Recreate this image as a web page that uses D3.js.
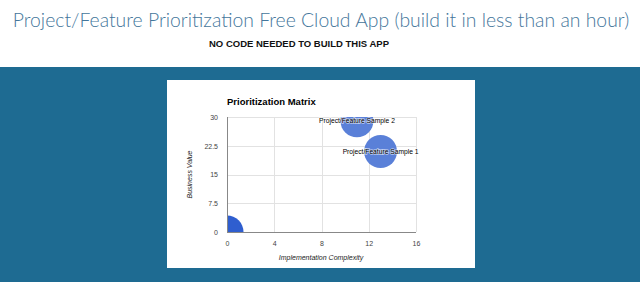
<!DOCTYPE html>
<html>
<head>
<meta charset="utf-8">
<script src="https://cdn.jsdelivr.net/npm/d3@7"></script>
<style>
  html, body { margin: 0; padding: 0; background: #fff; }
  svg { display: block; }
</style>
</head>
<body>
<div id="chart"></div>
<script>
// 버블 데이터
const names = ['Project/Feature Sample 1', 'Project/Feature Sample 2', ''];
const complexity = [13, 11, 0];
const value = [21, 29, 0];
const sizes = [1, 1, 1];
const bubbleColors = ['#5a80d8', '#5a80d8', '#2f5ecf'];
const xTicks = [0, 4, 8, 12, 16];
const yTicks = [0, 7.5, 15, 22.5, 30];

const W = 640, H = 288;
const svg = d3.select('#chart').append('svg')
  .attr('width', W).attr('height', H);

// 페이지 제목 (폭 617px에 맞춰 글자 크기 조정)
const title = svg.append('text')
  .attr('x', 321).attr('y', 27)
  .attr('text-anchor', 'middle')
  .attr('font-family', 'Lato')
  .attr('font-weight', 300)
  .attr('font-size', 20)
  .attr('fill', '#44769b')
  .text('Project/Feature Prioritization Free Cloud App (build it in less than an hour)');
const tw = title.node().getComputedTextLength();
title.attr('font-size', 20 * 617 / tw);

svg.append('text')
  .attr('x', 299).attr('y', 47)
  .attr('text-anchor', 'middle')
  .attr('font-family', 'Liberation Sans, Arial')
  .attr('font-weight', 'bold')
  .attr('font-size', 9.5)
  .attr('fill', '#111')
  .text('NO CODE NEEDED TO BUILD THIS APP');

// 파란 배경 띠
svg.append('rect')
  .attr('x', 0).attr('y', 67).attr('width', W).attr('height', 215)
  .attr('fill', '#1e6b92');

// 흰 패널
svg.append('rect')
  .attr('x', 167).attr('y', 80).attr('width', 308).attr('height', 188)
  .attr('fill', '#fff');

/******************** 차트 ********************/
const plot = {left: 227, right: 416, top: 117, bottom: 232};
const x = d3.scaleLinear().domain([0, 16]).range([plot.left, plot.right]);
const y = d3.scaleLinear().domain([0, 30]).range([plot.bottom, plot.top]);
const r = d3.scaleSqrt().domain([0, d3.max(sizes)]).range([0, 16.5]);

svg.append('text')
  .attr('x', 227).attr('y', 105)
  .attr('font-family', 'Liberation Sans, Arial')
  .attr('font-weight', 'bold')
  .attr('font-size', 9.5)
  .attr('fill', '#000')
  .text('Prioritization Matrix');

// 그리드
const grid = svg.append('g').attr('stroke', '#e2e2e2').attr('stroke-width', 1);
grid.selectAll('line.v').data(xTicks.slice(1)).join('line')
  .attr('x1', d => Math.round(x(d)) + 0.5).attr('x2', d => Math.round(x(d)) + 0.5)
  .attr('y1', plot.top).attr('y2', plot.bottom);
grid.selectAll('line.h').data(yTicks.slice(1)).join('line')
  .attr('y1', d => Math.round(y(d)) + 0.5).attr('y2', d => Math.round(y(d)) + 0.5)
  .attr('x1', plot.left).attr('x2', plot.right);

// 축 (눈금 선 없이 라벨만)
const xAxis = svg.append('g')
  .attr('transform', `translate(0,${plot.bottom + 6})`)
  .call(d3.axisBottom(x).tickValues(xTicks).tickSize(0).tickFormat(d3.format('')));
const yAxis = svg.append('g')
  .attr('transform', `translate(${plot.left - 6},0)`)
  .call(d3.axisLeft(y).tickValues(yTicks).tickSize(0).tickFormat(d => d));
[xAxis, yAxis].forEach(a => {
  a.select('.domain').remove();
  a.selectAll('text')
    .attr('font-family', 'Liberation Sans, Arial')
    .attr('font-size', 7)
    .attr('fill', '#444');
});

// 버블 (플롯 영역으로 클리핑)
svg.append('clipPath').attr('id', 'plotclip')
  .append('rect')
  .attr('x', plot.left).attr('y', plot.top)
  .attr('width', plot.right - plot.left).attr('height', plot.bottom - plot.top);

const I = d3.range(names.length);
svg.append('g')
  .attr('clip-path', 'url(#plotclip)')
  .selectAll('circle')
  .data(I)
  .join('circle')
    .attr('cx', i => x(complexity[i]))
    .attr('cy', i => y(value[i]))
    .attr('r', i => r(sizes[i]))
    .attr('fill', i => bubbleColors[i]);

// 기준선
svg.append('line')
  .attr('x1', plot.left + 0.5).attr('x2', plot.left + 0.5)
  .attr('y1', plot.top).attr('y2', plot.bottom)
  .attr('stroke', '#888');
svg.append('line')
  .attr('x1', plot.left).attr('x2', plot.right)
  .attr('y1', plot.bottom + 0.5).attr('y2', plot.bottom + 0.5)
  .attr('stroke', '#888');

// 버블 레이블
svg.append('g')
  .selectAll('text')
  .data(I.filter(i => names[i]))
  .join('text')
    .attr('x', i => x(complexity[i]))
    .attr('y', i => y(value[i]))
    .attr('dy', '0.35em')
    .attr('text-anchor', 'middle')
    .attr('font-family', 'Liberation Sans, Arial')
    .attr('font-size', 6.7)
    .attr('fill', '#000')
    .attr('stroke', 'rgba(255,255,255,0.6)')
    .attr('stroke-width', 1.5)
    .attr('paint-order', 'stroke')
    .text(i => names[i]);

// 축 제목
svg.append('text')
  .attr('x', 321).attr('y', 260)
  .attr('text-anchor', 'middle')
  .attr('font-family', 'Liberation Sans, Arial')
  .attr('font-style', 'italic')
  .attr('font-size', 7)
  .attr('fill', '#222')
  .text('Implementation Complexity');

svg.append('text')
  .attr('transform', `translate(192,${(plot.top + plot.bottom) / 2}) rotate(-90)`)
  .attr('text-anchor', 'middle')
  .attr('font-family', 'Liberation Sans, Arial')
  .attr('font-style', 'italic')
  .attr('font-size', 7)
  .attr('fill', '#222')
  .text('Business Value');
</script>
</body>
</html>
